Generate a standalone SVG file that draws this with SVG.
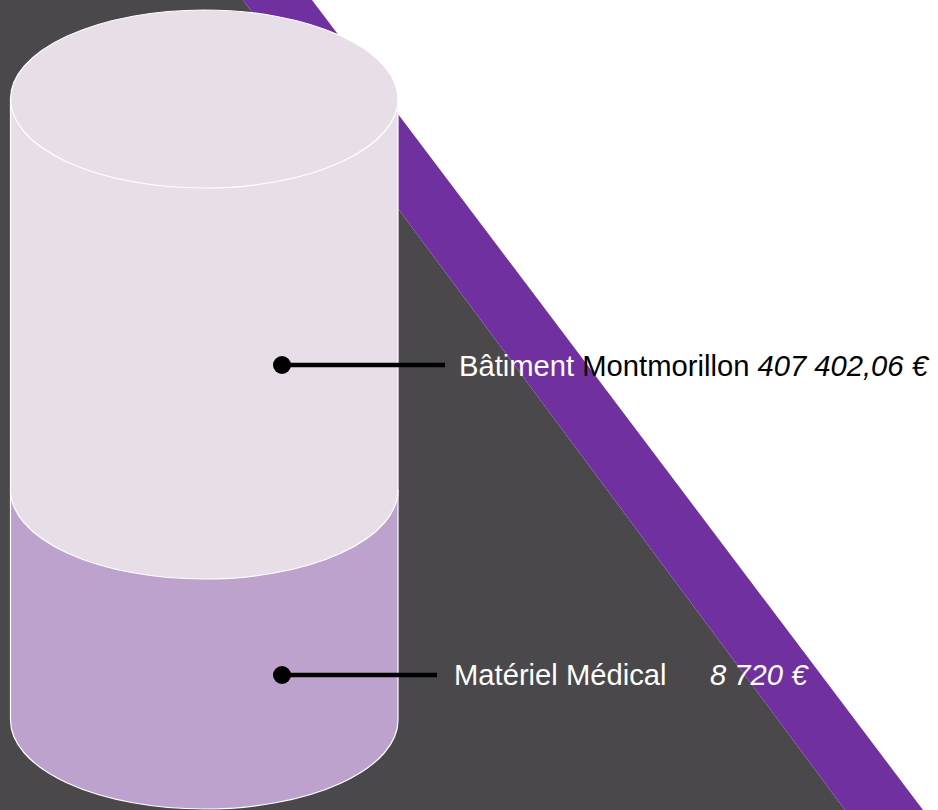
<svg xmlns="http://www.w3.org/2000/svg" width="938" height="810" viewBox="0 0 938 810">
<style>
.seg{stroke:#ffffff;stroke-width:1.2}
.top{fill:#e8dee8}
.low{fill:#bca2cc}
.conn line{stroke:#000;stroke-width:4.5}
.conn circle{fill:#000}
.lbl{font-family:"Liberation Sans",Arial,sans-serif;font-size:29.2px}
</style>
<rect width="938" height="810" fill="#ffffff"/>
<polygon points="0,0 243,0 845,810 0,810" fill="#4a484b"/>
<polygon points="243,0 312,0 923,810 845,810" fill="#7030a0"/>
<g id="segment-materiel">
<path class="seg low" d="M10.5,490 L10.5,720 A193.75,89 0 0 0 398,720 L398,490 Z"/>
</g>
<g id="segment-batiment">
<path class="seg top" d="M10.5,99 L10.5,490 A193.75,89 0 0 0 398,490 L398,99 Z"/>
<ellipse class="seg top" cx="204.25" cy="99" rx="193.75" ry="89"/>
</g>
<g id="connectors" class="conn">
<line x1="282" y1="365" x2="445" y2="365"/>
<circle cx="282" cy="365" r="9"/>
<line x1="282" y1="675" x2="437" y2="675"/>
<circle cx="282" cy="675" r="9"/>
</g>
<g id="label-batiment">
<text class="lbl" x="459" y="376"><tspan fill="#ffffff">Bâtiment </tspan><tspan fill="#000000">Montmorillon </tspan><tspan fill="#000000" font-style="italic">407 402,06 €</tspan></text>
</g>
<g id="label-materiel">
<text class="lbl" x="454" y="685" fill="#ffffff">Matériel Médical</text>
<text class="lbl" x="710" y="685" fill="#ffffff" font-style="italic">8 720 €</text>
</g>
</svg>
